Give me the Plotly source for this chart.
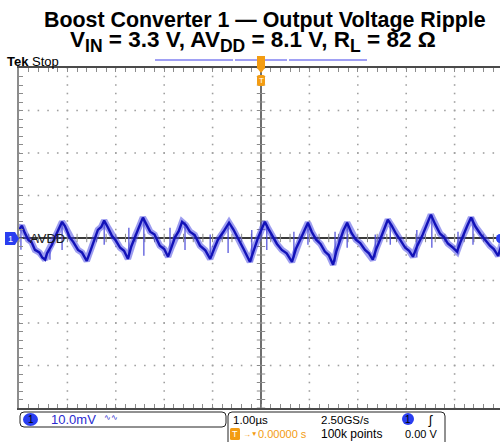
import numpy as np
import plotly.graph_objects as go

# AVDD ripple: time in µs (1 µs/div), voltage in mV (10 mV/div, AC)
t_us = [-5.00, -4.94, -4.88, -4.81, -4.74, -4.67, -4.58, -4.52, -4.46, -4.42,
        -4.38, -4.32, -4.26, -4.19, -4.11, -4.05, -3.95, -3.88, -3.78, -3.70,
        -3.60, -3.53, -3.47, -3.42, -3.37, -3.30, -3.24, -3.16, -3.08, -3.00,
        -2.91, -2.83, -2.75, -2.68, -2.60, -2.52, -2.44, -2.37, -2.29, -2.20,
        -2.09, -2.00, -1.92, -1.85, -1.78, -1.70, -1.63, -1.55, -1.47, -1.37,
        -1.26, -1.15, -1.05, -0.97, -0.89, -0.78, -0.66, -0.57, -0.48, -0.36,
        -0.23, -0.14, -0.06, 0.00, 0.08, 0.15, 0.23, 0.33, 0.43, 0.53,
        0.64, 0.72, 0.81, 0.89, 0.97, 1.05, 1.14, 1.23, 1.32, 1.40,
        1.49, 1.56, 1.63, 1.70, 1.78, 1.87, 1.96, 2.05, 2.15, 2.23,
        2.31, 2.38, 2.46, 2.54, 2.62, 2.70, 2.79, 2.88, 2.98, 3.06,
        3.14, 3.23, 3.33, 3.42, 3.51, 3.60, 3.70, 3.78, 3.86, 3.95,
        4.05, 4.12, 4.19, 4.26, 4.34, 4.43, 4.53, 4.63, 4.73, 4.81,
        4.90, 5.00]
v_mv = [1.9, 2.9, 1.2, -0.4, -1.0, -2.8, -3.4, -4.6, -5.1, -3.6,
        -2.8, -1.6, 0.1, 1.8, 3.8, 2.8, 0.1, -0.9, -2.8, -3.4,
        -5.4, -3.2, -1.3, 0.6, 1.9, 2.6, 4.1, 2.4, 0.5, -0.6,
        -2.3, -3.0, -4.9, -2.0, 0.5, 2.6, 4.8, 3.4, 1.5, 0.8,
        -1.8, -2.6, -4.4, -2.2, 0.1, 1.6, 3.8, 3.0, 1.5, 0.7,
        -1.8, -2.9, -4.9, -2.6, -0.4, 1.4, 3.6, 2.0, 0.1, -2.6,
        -5.6, -2.4, 0.1, 1.7, 3.8, 2.2, 0.5, -1.4, -2.8, -3.6,
        -5.6, -2.6, -0.4, 1.6, 3.6, 1.4, -0.4, -1.4, -3.2, -4.0,
        -6.3, -3.0, -0.4, 1.7, 3.6, 1.2, -0.4, -1.2, -2.8, -3.6,
        -5.1, -2.6, -0.4, 2.0, 4.3, 2.9, 1.0, -0.5, -2.3, -3.0,
        -4.4, -1.8, 0.5, 3.0, 5.5, 3.2, 1.0, 0.2, -1.3, -2.1,
        -3.2, -1.0, 1.0, 2.8, 4.8, 2.7, 1.0, -0.4, -1.8, -2.6,
        -4.2, -0.4]

# switching spikes (time, top, bottom)
spike_t = [-4.96, -4.36, -4.11, -3.24, -2.73, -2.42, -1.88, -1.57, -1.05, -0.68, -0.19,
           0.12, 0.68, 0.97, 1.53, 1.78, 2.36, 2.67, 3.22, 3.53, 4.07, 4.38]
spike_hi = [1.9, -2.8, 3.8, 3.8, 2.4, 4.8, 2.4, 3.8, 0.8, 3.1, 1.9,
            3.1, 1.5, 3.8, 1.5, 3.8, 0.8, 3.8, 1.9, 5.5, 1.5, 4.8]
spike_lo = [-2.75, -5.1, -2.8, -1.6, -4.6, -4.2, -2.8, -2.8, -3.9, -3.5, -5.6,
            -2.8, -4.6, -1.6, -5.6, -2.3, -4.6, -1.6, -4.6, -2.3, -3.9, -1.6]

W, H = 500, 442
L, R, T, B = 19, 0, 68, 34
X_RANGE = [-5, (W - 261) / 48.4]
Y_RANGE = [-40, 40]

BLUE = "#1212b8"
ORANGE = "#f39c12"
CH_BLUE = "#2a3ef0"
FONT = "Liberation Sans, Arial, sans-serif"


def px(x):
    return (x - L) / (W - L - R)


def py(y):
    return (H - B - y) / (H - T - B)


def rrect(x0, y0, x1, y1, r):
    pts = [f"M {px(x0 + r)},{py(y0)}", f"L {px(x1 - r)},{py(y0)}",
           f"Q {px(x1)},{py(y0)} {px(x1)},{py(y0 + r)}", f"L {px(x1)},{py(y1 - r)}",
           f"Q {px(x1)},{py(y1)} {px(x1 - r)},{py(y1)}", f"L {px(x0 + r)},{py(y1)}",
           f"Q {px(x0)},{py(y1)} {px(x0)},{py(y1 - r)}", f"L {px(x0)},{py(y0 + r)}",
           f"Q {px(x0)},{py(y0)} {px(x0 + r)},{py(y0)}", "Z"]
    return " ".join(pts)


def poly(points):
    return "M " + " L ".join(f"{px(x)},{py(y)}" for x, y in points) + " Z"


fig = go.Figure()

# graticule dots
minor_x = np.arange(-5, 5.001, 0.2)
minor_y = np.arange(-40, 40.001, 2)
gx, gy = [], []
for mx in [-4, -3, -2, -1, 1, 2, 3, 4]:
    gx += [mx] * len(minor_y)
    gy += list(minor_y)
for my in [-30, -20, -10, 10, 20, 30]:
    gx += list(minor_x)
    gy += [my] * len(minor_x)
fig.add_trace(go.Scatter(x=gx, y=gy, mode="markers", hoverinfo="skip",
                         marker=dict(symbol="square", size=1.6, color="#a0a0a0")))

# crosshair ticks
fig.add_trace(go.Scatter(x=list(minor_x), y=[0] * len(minor_x), mode="markers", hoverinfo="skip",
                         marker=dict(symbol="line-ns", size=6, line=dict(width=1, color="#8a8a8a"))))
fig.add_trace(go.Scatter(x=[0] * len(minor_y), y=list(minor_y), mode="markers", hoverinfo="skip",
                         marker=dict(symbol="line-ew", size=6, line=dict(width=1, color="#8a8a8a"))))

# waveform
fig.add_trace(go.Scatter(x=t_us, y=v_mv, mode="lines", hoverinfo="skip",
                         line=dict(color="rgba(60,60,225,0.5)", width=6.5)))
sx, sy = [], []
for t, hi, lo in zip(spike_t, spike_hi, spike_lo):
    sx += [t, t, None]
    sy += [hi, lo, None]
fig.add_trace(go.Scatter(x=sx, y=sy, mode="lines", hoverinfo="skip",
                         line=dict(color="#4a4ad8", width=1.2)))
fig.add_trace(go.Scatter(x=t_us, y=v_mv, mode="lines", name="AVDD",
                         line=dict(color=BLUE, width=2.4)))

shapes = [
    # record bar
    dict(type="line", x0=px(155), x1=px(233), y0=py(60), y1=py(60), line=dict(color="#4040e8", width=1)),
    dict(type="line", x0=px(235), x1=px(287), y0=py(60), y1=py(60), line=dict(color="#4040e8", width=1)),
    dict(type="line", x0=px(289), x1=px(367), y0=py(60), y1=py(60), line=dict(color="#4040e8", width=1)),
    # trigger position marker
    dict(type="path", path=poly([(257, 56), (265, 56), (265, 68), (261, 73), (257, 68)]),
         fillcolor=ORANGE, line=dict(width=0)),
    dict(type="path", path=rrect(257, 75, 265, 86, 2), fillcolor=ORANGE, line=dict(width=0)),
    # channel 1 marker
    dict(type="path", path=poly([(5, 232), (15, 232), (19, 238.5), (15, 245), (5, 245)]),
         fillcolor=CH_BLUE, line=dict(width=0)),
    dict(type="circle", x0=px(496), x1=px(504), y0=py(234), y1=py(243),
         fillcolor=CH_BLUE, line=dict(width=0)),
    # readout boxes
    dict(type="path", path=rrect(20, 412, 226, 427, 4), line=dict(color="#222", width=1)),
    dict(type="path", path=rrect(228, 412, 445, 452, 4), line=dict(color="#222", width=1)),
    dict(type="circle", x0=px(23), x1=px(38), y0=py(413), y1=py(426), fillcolor=CH_BLUE, line=dict(width=0)),
    dict(type="circle", x0=px(402), x1=px(414), y0=py(413), y1=py(425), fillcolor=CH_BLUE, line=dict(width=0)),
    dict(type="path", path=rrect(230, 428, 240, 440, 1.5), fillcolor=ORANGE, line=dict(width=0)),
]
for s in shapes:
    s.update(xref="paper", yref="paper", layer="above")


def txt(x, y, text, size=12, color="black", anchor="left", **kw):
    return dict(x=px(x), y=py(y), xref="paper", yref="paper", text=text, showarrow=False,
                xanchor=anchor, yanchor="middle", font=dict(family=FONT, size=size, color=color), **kw)


SUB = '<sub><span style="font-size:17.5px">{}</span></sub>'
annotations = [
    txt(264.5, 20, "<b>Boost Converter 1 — Output Voltage Ripple</b>", size=21.4, anchor="center"),
    txt(253, 41, "<b>V" + SUB.format("IN") + " = 3.3 V, AV" + SUB.format("DD")
        + " = 8.1 V, R" + SUB.format("L") + " = 82 Ω</b>", size=22.5, anchor="center"),
    txt(5, 61, "<b>Tek</b> Stop", size=13),
    txt(261, 80.5, "T", size=8, color="white", anchor="center"),
    txt(10, 238.5, "1", size=9, color="white", anchor="center"),
    txt(28, 238.5, "AVDD", size=13, color="#1a1a1a"),
    txt(30.5, 419.5, "1", size=10, color="black", anchor="center"),
    txt(49, 419.5, "10.0mV", size=13, color="#2a2ad0"),
    txt(102, 418, "∿∿", size=8, color="#2a2ad0"),
    txt(231, 419.5, "1.00µs", size=11.5),
    txt(319, 419.5, "2.50GS/s", size=11.5),
    txt(408, 419, "1", size=10, anchor="center"),
    txt(426, 419.5, "ʃ", size=13),
    txt(235, 434, "T", size=9, color="white", anchor="center"),
    txt(240.5, 434, "→", size=8, color=ORANGE),
    txt(249, 433.5, "▼", size=6.5, color=ORANGE),
    txt(256, 434, "0.00000 s", size=11, color=ORANGE),
    txt(319, 434, "100k points", size=12),
    txt(439, 434, "0.00 V", size=11, anchor="right"),
]

fig.update_layout(
    width=W, height=H,
    margin=dict(l=L, r=R, t=T, b=B),
    paper_bgcolor="white", plot_bgcolor="white",
    showlegend=False,
    shapes=shapes, annotations=annotations,
    xaxis=dict(range=X_RANGE, showgrid=False, zeroline=True, zerolinecolor="#6e6e6e", zerolinewidth=1.5,
               showline=True, linecolor="#4a4a4a", linewidth=1.5, mirror="ticks",
               ticks="inside", tick0=-5, dtick=0.2, ticklen=4, tickcolor="#8c8c8c",
               showticklabels=False, fixedrange=True),
    yaxis=dict(range=Y_RANGE, showgrid=False, zeroline=True, zerolinecolor="#3a3a3a", zerolinewidth=1.5,
               showline=True, linecolor="#8c8c8c", linewidth=2,
               ticks="inside", tick0=0, dtick=2, ticklen=4, tickcolor="#8c8c8c",
               showticklabels=False, fixedrange=True),
)

fig.write_html("out.html", post_script="document.body.style.margin='0';",
               config={"displayModeBar": False})
